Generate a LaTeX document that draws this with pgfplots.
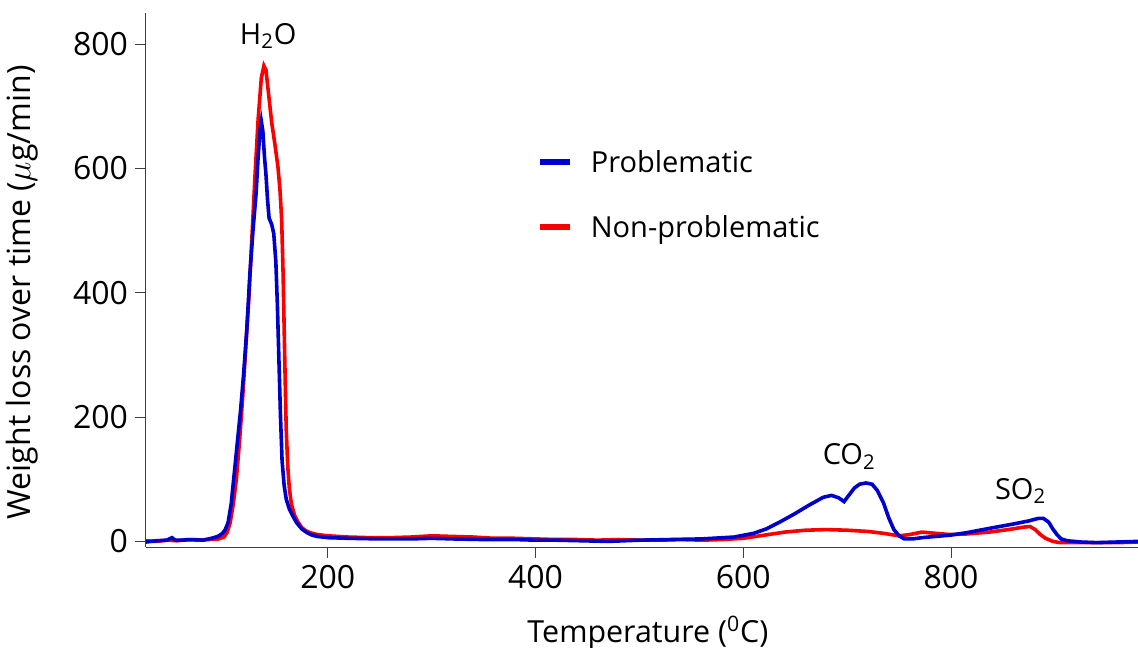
\documentclass[border=0pt]{standalone}
\usepackage{fontspec}
\setmainfont{Open Sans}
\usepackage{pgfplots}
\pgfplotsset{compat=1.18}

\definecolor{probblue}{RGB}{0,0,205}
\definecolor{nonred}{RGB}{250,0,0}

% Non-problematic sample
\pgfplotstableread{
T W
25 1
35 0
45 2
55 1
65 3
75 2
85 3
95 4
100 7
103 14
106 30
109 60
112 100
115 160
118 230
121 310
124 390
127 490
130 590
133 680
136 745
138.5 765
140.5 758
143 720
146 674
149 640
152 603
154 565
155.6 518
157 430
158.5 300
160 180
161.5 120
163 85
165 60
168 42
171 32
175 22
180 16
185 13
190 11
200 9
210 8
220 7
240 6
260 6
280 7
300 9
320 8
340 7
360 5
380 5
400 4
420 3
440 3
460 2
480 3
500 2
520 2
540 3
560 2
580 3
600 5
620 10
640 15
660 18
680 19
700 18
720 16
735 13
750 9
760 11
772 15
785 13
799 11
815 12
837 15
855 19
870 23
876 24
881 19
886 11
891 5
898 0
905 -2
920 -2
940 -2
960 -2
980 -1
}\nonprob

% Problematic sample
\pgfplotstableread{
T W
25 -1
35 1
45 2
50 6
53 2
60 2
70 3
80 2
88 5
94 8
98 12
101 18
104 30
107 60
110 110
113 160
116 210
119 270
122 340
125 430
128 500
131 560
133 620
135 665
136 676
137.5 660
139 620
140.5 590
142 550
143.5 520
146 510
148 495
150 450
151.5 380
153 290
154.5 200
156 130
158 90
160 68
163 52
166 42
170 30
175 20
180 14
185 10
190 8
200 6
220 5
250 4
280 4
300 5
320 4
350 3
380 3
400 2
420 2
445 1
470 0
500 2
530 3
560 4
591 7
610 13
622 20
635 31
649 44
663 58
677 71
685 74
692 70
697 64
702 75
707 86
712 92
718 94
724 92
729 82
735 62
740 38
745 19
750 9
755 4
763 4
772 6
785 8
799 10
815 14
837 21
860 28
875 33
884 37
889 37
894 31
898 20
902 11
906 4
912 1
925 -1
940 -2
960 -1
980 0
}\prob

\begin{document}
\begin{tikzpicture}
\begin{axis}[
  scale only axis,
  width=496pt, height=267pt,
  xmin=25, xmax=980, ymin=-9, ymax=850,
  axis lines=left,
  axis line style={-, draw=black!75, line width=0.5pt},
  xtick={200,400,600,800},
  ytick={0,200,400,600,800},
  tick align=outside,
  major tick length=5.5pt,
  tick style={draw=black!75, line width=0.5pt},
  /pgf/number format/assume math mode=true,
  tick label style={font=\fontsize{16}{19}\selectfont},
  xlabel={Temperature (\textsuperscript{0}C)},
  ylabel={Weight loss over time ($\mu$g/min)},
  x label style={at={(axis description cs:0.506,-0.178)}, anchor=base,
    font=\fontsize{15.2}{18}\selectfont},
  y label style={at={(axis description cs:-0.125,0.477)}, anchor=center,
    font=\fontsize{16}{19}\selectfont},
  reverse legend,
  legend style={draw=none, fill=none, inner sep=0pt,
    at={(axis description cs:0.394,0.6545)}, anchor=west,
    font=\fontsize{14.5}{17}\selectfont,
    row sep=18pt, column sep=0pt,
    nodes={inner sep=0pt, text height=11pt, text depth=3.5pt}},
  legend cell align=left,
  legend image code/.code={%
    \draw[#1, line width=2.6pt] (0pt,1.5pt) -- (15pt,1.5pt);
    \path[draw=none, fill=none] (0pt,1.5pt) -- (25.5pt,1.5pt);},
  clip=false,
]
\addplot[nonred, line width=1.8pt] table[x=T, y=W] {\nonprob};
\addlegendentry{Non-problematic}
\addplot[probblue, line width=1.8pt] table[x=T, y=W] {\prob};
\addlegendentry{Problematic}

\node[anchor=base, font=\fontsize{14.5}{17}\selectfont] at (axis cs:142.6,800) {H\textsubscript{2}O};
\node[anchor=base, font=\fontsize{14.5}{17}\selectfont] at (axis cs:702,124) {CO\textsubscript{2}};
\node[anchor=base, font=\fontsize{14.5}{17}\selectfont] at (axis cs:867,68) {SO\textsubscript{2}};
\end{axis}
\pgfresetboundingbox
\path[use as bounding box] ([shift={(-73pt,-50pt)}]current axis.south west) rectangle ([shift={(0pt,6.5pt)}]current axis.north east);
\end{tikzpicture}
\end{document}
